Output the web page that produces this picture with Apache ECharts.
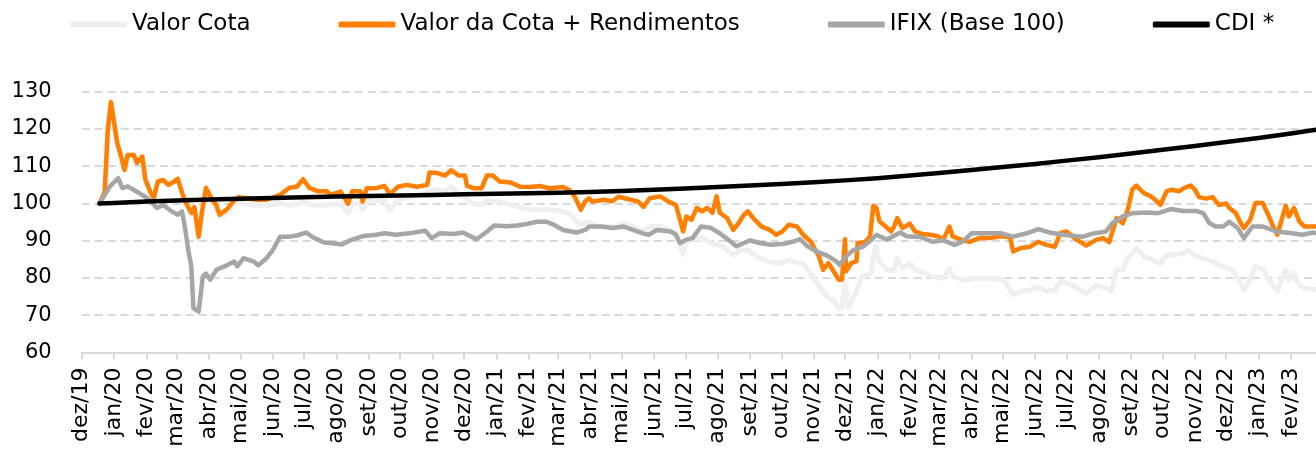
<!DOCTYPE html>
<html>
<head>
<meta charset="utf-8">
<script src="https://cdn.jsdelivr.net/npm/echarts@6/dist/echarts.min.js"></script>
<style>
html,body{margin:0;padding:0;background:#ffffff;}
#chart{width:1316px;height:452px;}
</style>
</head>
<body>
<div id="chart"></div>
<script>
// ---- data (x = day offset from 2019-12-01, y = index value) ----
const startDate = [2019, 11, 1];
const dayCount = 1183;
const monthNames = ['jan','fev','mar','abr','mai','jun','jul','ago','set','out','nov','dez'];
const seriesNames = ['Valor Cota', 'Valor da Cota + Rendimentos', 'IFIX (Base 100)', 'CDI *'];
const yMin = 60, yMax = 130, yStep = 10;

const valorCota = [
[17,100],[22,103],[25,119.8],[28,127.2],[34,116.3],[38,112.3],[41,109],[44,113],[50,113],[53,110.9],
[58,112.6],[61,106.4],[66,102.9],[69,101.5],[73,105.9],[78,106.3],[83,105],[87,105.6],[92,106.6],[96,102.9],
[100,100.1],[105,97],[108,98],[112,90.5],[115,96.5],[119,103],[124,100.5],[129,98.5],[132,96.3],[139,97.5],
[145,99.5],[150,100.3],[158,99.8],[168,99.5],[177,99.5],[190,100],[199,99.5],[206,99.8],[212,100.5],[218,99.7],
[226,99.5],[235,99.5],[238,99.7],[248,99.9],[255,97.4],[259,99.9],[267,99.9],[269,98.3],[273,100.6],[282,100.6],
[290,100.8],[295,98.3],[303,100.9],[311,101.5],[321,102],[331,103],[333,103.7],[340,103.7],[348,103.4],[354,104.5],
[361,102.3],[367,101.8],[369,100.9],[375,100],[383,99.6],[388,100.9],[394,100.7],[400,100.5],[411,99.6],[420,99],
[430,98.3],[439,98.3],[448,98.3],[461,97.9],[467,97.4],[472,95.6],[478,94.3],[482,94.9],[486,94.7],[496,93.8],
[511,93.8],[519,94.7],[528,93.8],[538,92.5],[544,93.8],[554,93.8],[562,93],[569,92],[573,88.5],[576,86.2],
[579,89.6],[585,90.4],[594,90.8],[602,89.4],[611,88.8],[618,87.5],[624,86.2],[631,87.5],[638,87.5],[643,86.5],
[649,85.3],[659,84.4],[668,83.9],[677,84.8],[685,84.2],[691,83.9],[698,81.3],[707,77.5],[715,74.6],[720,74],
[725,71.9],[728,71.9],[731,78.5],[734,72],[742,76.4],[747,80.4],[753,80.8],[756,81.5],[760,88.5],[764,84.4],
[771,82.2],[778,82],[781,85.3],[786,82.5],[793,83.9],[798,82.2],[807,81.3],[815,80.4],[825,80],[831,82.6],
[834,80.4],[844,79.5],[858,79.9],[870,79.9],[883,79.5],[892,75.5],[899,76.4],[908,76.8],[916,77.6],[924,76.4],
[932,76.8],[937,79],[943,78.8],[953,77.3],[962,75.9],[972,78.1],[981,77.3],[986,76.5],[991,82.2],[997,82.2],
[1002,85.3],[1010,88],[1017,85.8],[1024,85],[1033,83.9],[1039,86.2],[1044,86.2],[1053,86.6],[1060,87.4],[1066,86],
[1074,85.3],[1083,84.4],[1092,83.1],[1102,82.2],[1110,78.6],[1113,76.8],[1119,79.5],[1124,83.1],[1131,82.2],[1137,79.5],
[1145,76.4],[1153,82.2],[1156,79.5],[1161,81.3],[1166,78.1],[1172,77.3],[1182,76.8]
];

const cotaRendimentos = [
[17,100],[22,103],[25,119.8],[28,127.2],[34,116.3],[38,112.3],[41,109],[44,113],[50,113],[53,110.9],
[58,112.6],[61,106.4],[66,102.9],[69,101.5],[73,105.9],[78,106.3],[83,105],[87,105.6],[92,106.6],[96,102.9],
[100,100.1],[105,97.5],[108,99],[112,91.1],[115,97.4],[119,104.2],[124,101.5],[129,99.5],[132,97],[139,98.4],
[145,100.5],[150,101.7],[158,101.4],[168,101],[177,101],[190,102.3],[199,104.2],[206,104.5],[212,106.5],[218,104.2],
[226,103.3],[235,103.3],[238,102.3],[248,103.2],[255,99.9],[259,103.3],[267,103.3],[269,100.5],[273,104.1],[282,104.1],
[290,104.7],[295,102.5],[303,104.5],[311,105],[321,104.5],[331,105],[333,108.3],[340,108.2],[348,107.5],[354,108.9],
[361,107.5],[367,107.5],[369,104.7],[375,104.1],[383,104.1],[388,107.5],[394,107.5],[400,105.9],[411,105.6],[420,104.5],
[430,104.4],[439,104.7],[448,104.1],[461,104.4],[467,103.6],[472,101.9],[478,98.3],[482,100.5],[486,101.4],[489,100.5],
[500,101],[508,100.6],[514,101.8],[523,101.2],[533,100.5],[538,99.1],[544,101.4],[554,101.9],[562,100.5],[569,99.6],
[573,95.6],[576,92.5],[579,96.5],[584,95.6],[589,98.8],[594,97.9],[599,98.8],[604,97.5],[608,101.9],[611,97.5],
[618,96.1],[624,92.9],[629,94.7],[634,96.9],[638,97.9],[643,96.1],[651,93.8],[659,92.9],[665,91.6],[671,92.5],
[677,94.3],[685,93.8],[691,91.6],[698,89.8],[706,85.8],[710,82.2],[715,84],[720,81.8],[725,79.5],[728,79.5],
[731,90.4],[732,81.8],[737,84],[742,84.5],[743,89.4],[750,89.6],[755,91.2],[758,99.4],[761,98.8],[764,95.2],
[770,93.8],[775,92.5],[778,93.8],[781,96.1],[786,93.4],[793,94.6],[798,92.5],[804,91.9],[812,91.6],[820,91.2],
[825,90.3],[831,93.8],[834,91.2],[842,90.3],[850,89.7],[860,90.7],[870,90.7],[880,91.2],[889,91],[892,87.1],
[899,88],[908,88.4],[916,89.7],[924,88.9],[932,88.4],[937,92],[943,92.5],[953,90.3],[962,88.7],[972,90.3],
[978,90.7],[984,89.6],[991,96.1],[997,94.7],[1002,98.5],[1006,103.7],[1010,104.8],[1017,102.8],[1024,101.9],[1028,101],
[1033,99.6],[1039,103.3],[1044,103.7],[1051,103.3],[1056,104.2],[1062,104.8],[1066,103.7],[1070,101.7],[1077,101.3],[1083,101.7],
[1089,99.6],[1096,100],[1099,98.8],[1105,97.5],[1110,94.7],[1113,93.4],[1119,95.6],[1124,100.1],[1131,100.1],[1137,96.5],
[1141,93.8],[1145,91.6],[1153,99.4],[1156,96.5],[1161,98.8],[1166,95.2],[1171,93.8],[1182,93.8]
];

const ifix = [
[17,100],[27,104.6],[35,106.8],[39,104.1],[44,104.6],[55,102.8],[63,101.4],[72,98.8],[78,99.6],[86,97.9],
[92,97],[96,97.9],[99,93.4],[102,87.5],[105,83.1],[107,71.9],[112,71],[116,80.4],[119,81.2],[123,79.5],
[129,82.2],[139,83.4],[146,84.4],[149,83.1],[155,85.3],[165,84.4],[169,83.4],[177,85.3],[183,87.5],[190,91.1],
[199,91.1],[206,91.4],[215,92.2],[221,91],[232,89.5],[238,89.4],[249,89],[257,90.1],[270,91.3],[282,91.6],
[290,92],[301,91.6],[314,92],[329,92.7],[335,90.7],[343,92],[356,91.8],[365,92.2],[378,90.4],[388,92.4],
[395,94.1],[407,93.9],[417,94.1],[426,94.5],[436,95.1],[445,95.1],[452,94.3],[461,92.9],[474,92.2],[482,92.9],
[486,93.8],[497,93.8],[509,93.4],[519,93.8],[528,92.9],[538,91.9],[543,91.6],[551,92.9],[564,92.5],[569,91.6],
[573,89.4],[579,90.3],[585,90.7],[593,93.8],[602,93.5],[611,92],[619,90.3],[627,88.5],[634,89.4],[640,90.1],
[649,89.4],[660,88.9],[671,89.1],[682,89.8],[688,90.4],[695,88.5],[704,87.1],[714,86],[723,84.4],[726,83.5],
[732,85.8],[739,87.5],[748,88.4],[756,90.2],[761,91.6],[771,90.3],[784,92.2],[790,91.2],[803,91],[815,89.7],
[825,90.1],[836,88.9],[844,89.8],[852,92],[865,92],[880,92],[892,91.1],[905,92],[916,93.1],[927,92.2],
[940,91.6],[953,91.2],[959,91.1],[968,91.9],[981,92.5],[987,94.7],[997,96.5],[1006,97.4],[1019,97.6],[1031,97.4],
[1043,98.5],[1055,98],[1067,98],[1074,97.4],[1080,94.7],[1086,93.8],[1093,93.8],[1099,95.1],[1107,93.4],[1113,90.7],
[1121,93.8],[1131,93.8],[1144,92.5],[1157,92.1],[1169,91.6],[1179,92.2],[1182,92]
];

const cdi = [
[17,100],[31,100.15],[62,100.5],[91,100.8],[122,101.05],[152,101.3],[183,101.5],[213,101.7],[244,101.85],[275,102],
[305,102.15],[336,102.3],[366,102.45],[397,102.6],[428,102.75],[456,102.9],[487,103.1],[517,103.35],[548,103.65],[578,104.05],
[609,104.45],[640,104.85],[670,105.25],[701,105.7],[731,106.2],[762,106.8],[793,107.5],[821,108.2],[852,109],[882,109.8],
[913,110.6],[943,111.5],[974,112.4],[1005,113.4],[1035,114.4],[1066,115.4],[1096,116.5],[1127,117.6],[1158,118.8],[1182,119.8]
];

// ---- daily category axis ----
const categories = [];
for (let i = 0; i < dayCount; i++) {
  const d = new Date(Date.UTC(startDate[0], startDate[1], startDate[2] + i));
  categories.push(d.toISOString().slice(0, 10));
}
const isMonthStart = (idx, val) => val.slice(8, 10) === '01';
const monthLabel = (val) => monthNames[parseInt(val.slice(5, 7), 10) - 1] + '/' + val.slice(2, 4);

const chart = echarts.init(document.getElementById('chart'), null, {renderer: 'canvas'});

const lineSeries = (name, data, color, width) => ({
  name: name,
  type: 'line',
  data: data,
  color: color,
  showSymbol: false,
  symbol: 'none',
  smooth: false,
  connectNulls: true,
  lineStyle: {color: color, width: width, cap: 'round', join: 'round'},
  emphasis: {disabled: true},
  animation: false
});

chart.setOption({
  animation: false,
  backgroundColor: '#ffffff',
  legend: {
    left: 65,
    top: 8,
    itemWidth: 57,
    itemHeight: 6,
    itemGap: 88,
    icon: 'roundRect',
    data: seriesNames,
    textStyle: {fontFamily: 'DejaVu Sans', fontSize: 23, color: '#000000'}
  },
  grid: {left: 81.7, right: 0, top: 91.7, bottom: 99.5, containLabel: false, outerBoundsMode: 'none'},
  xAxis: {
    type: 'category',
    data: categories,
    boundaryGap: false,
    axisLine: {show: true, lineStyle: {color: '#D9D9D9', width: 2}},
    axisTick: {show: true, interval: isMonthStart, length: 7, lineStyle: {color: '#D9D9D9', width: 2}},
    axisLabel: {
      show: true,
      interval: isMonthStart,
      rotate: 90,
      margin: 15,
      formatter: monthLabel,
      fontFamily: 'DejaVu Sans',
      fontSize: 22,
      color: '#000000'
    },
    splitLine: {show: false}
  },
  yAxis: {
    type: 'value',
    min: yMin,
    max: yMax,
    interval: yStep,
    axisLine: {show: false},
    axisTick: {show: false},
    axisLabel: {margin: 30, fontFamily: 'DejaVu Sans', fontSize: 21, color: '#000000'},
    splitLine: {show: true, lineStyle: {color: '#D9D9D9', width: 2, type: [8, 5]}}
  },
  series: [
    lineSeries(seriesNames[0], valorCota, '#EFEFEF', 5),
    lineSeries(seriesNames[1], cotaRendimentos, '#FF7F00', 4.5),
    lineSeries(seriesNames[2], ifix, '#A6A6A6', 4.5),
    lineSeries(seriesNames[3], cdi, '#000000', 4.5)
  ]
});
</script>
</body>
</html>
